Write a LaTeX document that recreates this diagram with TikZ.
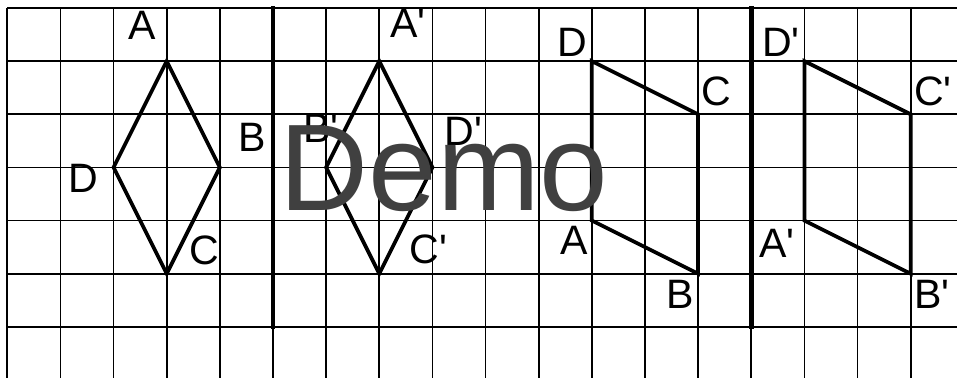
\documentclass[tikz,border=0pt]{standalone}
\usepackage{fontspec}
\setmainfont{Liberation Sans}[Ligatures=TeXOff]
\begin{document}
\begin{tikzpicture}[x=1cm,y=-1cm,
  gridline/.style={line width=0.9pt,black},
  axisline/.style={line width=2.6pt,black,line cap=rect},
  figline/.style={line width=2pt,black,line join=miter},
  lab/.style={inner sep=0pt,font=\fontsize{22}{26}\selectfont},
  wm/.style={inner sep=0pt,text={rgb,255:red,64;green,64;blue,64},font=\fontsize{66}{78}\selectfont}]
\useasboundingbox (-0.137,-0.1505) rectangle (17.872,6.963);
% grid
\foreach \i in {0,...,17} \draw[gridline] (\i,0) -- (\i,6.963);
\foreach \j in {0,...,6} \draw[gridline] (0,\j) -- (17.872,\j);
% mirror axes
\coordinate (m1t) at (5,0); \coordinate (m1b) at (5,6);
\coordinate (m2t) at (14,0); \coordinate (m2b) at (14,6);
\draw[axisline] (m1t) -- (m1b);
\draw[axisline] (m2t) -- (m2b);
% rhombus ABCD
\coordinate (A) at (3,1); \coordinate (B) at (4,3);
\coordinate (C) at (3,5); \coordinate (D) at (2,3);
\draw[figline] (A) -- (B) -- (C) -- (D) -- cycle;
% rhombus A'B'C'D'
\coordinate (A1) at (7,1); \coordinate (B1) at (6,3);
\coordinate (C1) at (7,5); \coordinate (D1) at (8,3);
\draw[figline] (A1) -- (B1) -- (C1) -- (D1) -- cycle;
% quadrilateral ABCD
\coordinate (P) at (11,4); \coordinate (Q) at (13,5);
\coordinate (R) at (13,2); \coordinate (S) at (11,1);
\draw[figline] (S) -- (R) -- (Q) -- (P) -- cycle;
% quadrilateral A'B'C'D'
\coordinate (P1) at (15,4); \coordinate (Q1) at (17,5);
\coordinate (R1) at (17,2); \coordinate (S1) at (15,1);
\draw[figline] (S1) -- (R1) -- (Q1) -- (P1) -- cycle;
% labels
\node[lab] (lA) at (2.544,0.32) {A};
\node[lab] (lB) at (4.614,2.43) {B};
\node[lab] (lC) at (3.70,4.56) {C};
\node[lab] (lD) at (1.434,3.20) {D};
\node[lab] (lA1) at (7.54,0.28) {A'};
\node[lab] (lB1) at (5.90,2.26) {B'};
\node[lab] (lC1) at (7.92,4.55) {C'};
\node[lab] (lD1) at (8.58,2.33) {D'};
\node[lab] (lS) at (10.63,0.64) {D};
\node[lab] (lR) at (13.34,1.56) {C};
\node[lab] (lP) at (10.67,4.37) {A};
\node[lab] (lQ) at (12.66,5.38) {B};
\node[lab] (lS1) at (14.56,0.64) {D'};
\node[lab] (lR1) at (17.42,1.56) {C'};
\node[lab] (lP1) at (14.48,4.42) {A'};
\node[lab] (lQ1) at (17.40,5.38) {B'};
% watermark
\node[wm] (demo) at (8.22,3.03) {Demo};
\end{tikzpicture}
\end{document}
